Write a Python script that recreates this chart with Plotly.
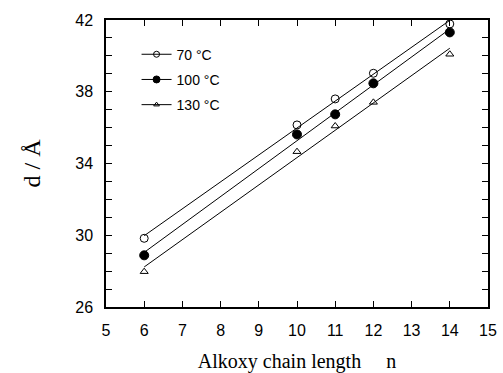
import numpy as np
import plotly.graph_objects as go

n_vals = [6, 10, 11, 12, 14]
d_70 = [29.83, 36.15, 37.6, 39.03, 41.78]
d_100 = [28.88, 35.62, 36.74, 38.47, 41.31]
d_130 = [27.97, 34.66, 36.09, 37.41, 40.09]
series_names = ["70 °C", "100 °C", "130 °C"]
x_ticks = list(range(5, 16))
y_ticks = list(range(26, 43))
y_labels = [str(v) if (v - 26) % 4 == 0 else "" for v in y_ticks]

symbols = ["circle-open", "circle", "triangle-up-open"]
sizes = [8, 9, 7]
fig = go.Figure()
for i, (name, ys, sym, sz) in enumerate(zip(series_names, [d_70, d_100, d_130], symbols, sizes)):
    slope, icpt = np.polyfit(n_vals, ys, 1)
    xf = [min(n_vals), max(n_vals)]
    yf = [slope * x + icpt for x in xf]
    fig.add_trace(go.Scatter(x=xf, y=yf, mode="lines", line=dict(color="black", width=1),
                             showlegend=False, hoverinfo="skip"))
    fig.add_trace(go.Scatter(x=n_vals, y=ys, mode="markers", showlegend=False,
                             marker=dict(symbol=sym, size=sz, color="black",
                                         line=dict(color="black", width=1))))
    fig.add_trace(go.Scatter(x=[None], y=[None], mode="lines+markers", name=name,
                             legendgroup="g%d" % i,
                             line=dict(color="black", width=1),
                             marker=dict(symbol=sym, size=sz - 2, color="black",
                                         line=dict(color="black", width=1))))

axis_common = dict(showline=True, linecolor="black", linewidth=1.5, mirror="ticks",
                   ticks="inside", ticklen=6, tickwidth=1.2, tickcolor="black",
                   showgrid=False, zeroline=False, automargin=False,
                   tickfont=dict(family="Liberation Sans, Arial", size=16, color="black"))
fig.update_xaxes(range=[5, 15], tickvals=x_ticks, ticklabelstandoff=8, **axis_common,
                 title=dict(text="Alkoxy chain length     n",
                            font=dict(family="Liberation Serif, Times New Roman", size=20, color="black"),
                            standoff=18))
fig.update_yaxes(range=[26, 42], tickvals=y_ticks, ticktext=y_labels, ticklabelstandoff=8,
                 **axis_common,
                 title=dict(text="d / Å",
                            font=dict(family="Liberation Serif, Times New Roman", size=24, color="black"),
                            standoff=28))
fig.update_layout(width=503, height=373, margin=dict(l=106, r=15, t=20, b=66),
                  plot_bgcolor="white", paper_bgcolor="white",
                  legend=dict(x=0.08, y=0.935, xanchor="left", yanchor="top",
                              bgcolor="rgba(0,0,0,0)", tracegroupgap=4,
                              font=dict(family="Liberation Sans, Arial", size=14, color="black")))
fig.write_html("out.html")
